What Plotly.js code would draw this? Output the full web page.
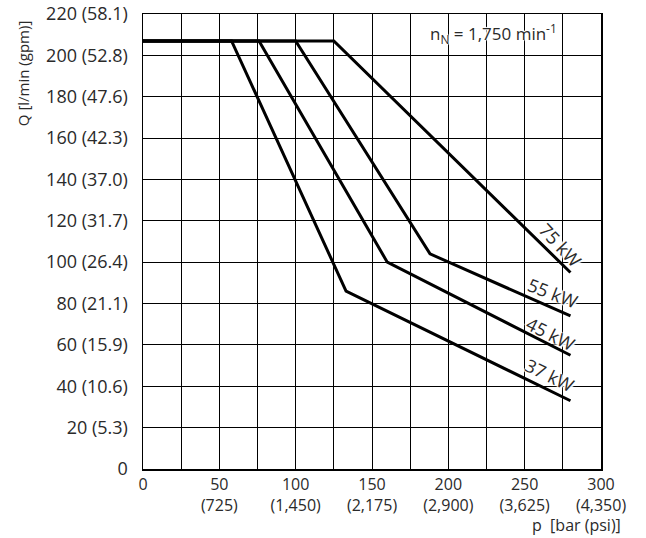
<!DOCTYPE html>
<html><head><meta charset="utf-8">
<script src="https://cdn.plot.ly/plotly-3.0.1.min.js"></script>
<style>body{margin:0;background:#fff}#c{width:646px;height:538px}</style>
</head><body><div id="c"></div>
<script>
// Data: pressure p [bar], flow Q [l/min]
const p37 = [0, 58, 133, 280];
const q37 = [207, 207, 86, 33];
const p45 = [0, 76, 160, 280];
const q45 = [207, 207, 100, 55];
const p55 = [0, 100, 188, 280];
const q55 = [207, 207, 104, 74];
const p75 = [0, 125, 280];
const q75 = [207, 207, 95];
const powerLabels = ['75 kW', '55 kW', '45 kW', '37 kW'];
const xTickVals = [0, 25, 50, 75, 100, 125, 150, 175, 200, 225, 250, 275, 300];
const xTickText = ['0', '', '50<br>(725)', '', '100<br>(1,450)', '', '150<br>(2,175)', '', '200<br>(2,900)', '', '250<br>(3,625)', '', '300<br>(4,350)'];
const yTickVals = [0, 20, 40, 60, 80, 100, 120, 140, 160, 180, 200, 220];
const yTickText = ['0', '20 (5.3)', '40 (10.6)', '60 (15.9)', '80 (21.1)', '100 (26.4)', '120 (31.7)', '140 (37.0)', '160 (42.3)', '180 (47.6)', '200 (52.8)', '220 (58.1)'];

const FONT = 'Open Sans, DejaVu Sans, sans-serif';
const TXT = '#2a2a2a';
const HALO = '1px 0 1px #fff, -1px 0 1px #fff, 0 1px 1px #fff, 0 -1px 1px #fff, 2px 0 1px #fff, -2px 0 1px #fff';
const line = {color: '#000', width: 3};
const traces = [
  {x: p75, y: q75, mode: 'lines', line: line, hoverinfo: 'skip'},
  {x: p55, y: q55, mode: 'lines', line: line, hoverinfo: 'skip'},
  {x: p45, y: q45, mode: 'lines', line: line, hoverinfo: 'skip'},
  {x: p37, y: q37, mode: 'lines', line: line, hoverinfo: 'skip'}
].map(t => Object.assign(t, {showlegend: false}));

const labelPos = [[273.5, 108.5, 47], [268.3, 85.0, 21], [267.4, 65.5, 27], [266.3, 45.5, 26]];
const annotations = powerLabels.map((t, i) => ({
  x: labelPos[i][0], y: labelPos[i][1], xref: 'x', yref: 'y', text: t,
  xanchor: 'center', yanchor: 'middle',
  showarrow: false, textangle: labelPos[i][2],
  font: {family: FONT, size: 18, color: TXT, shadow: HALO}
}));
annotations.push({
  x: 229.5, y: 210.5, xref: 'x', yref: 'y', xanchor: 'center', yanchor: 'middle',
  showarrow: false,
  text: 'n<sub>N</sub> = 1,750 min<sup>-1</sup>', font: {family: FONT, size: 17, color: TXT, shadow: HALO}
});
annotations.push({
  x: -0.262, y: 0.870, xref: 'paper', yref: 'paper', xanchor: 'center', yanchor: 'middle',
  showarrow: false, textangle: -90,
  text: 'Q [l/min (gpm)]', font: {family: FONT, size: 15, color: TXT}
});
annotations.push({
  x: 0.947, y: -0.124, xref: 'paper', yref: 'paper', xanchor: 'center', yanchor: 'middle',
  showarrow: false,
  text: 'p  [bar (psi)]', font: {family: FONT, size: 16, color: TXT}
});

const axisCommon = {showgrid: true, gridcolor: '#000', gridwidth: 1, zeroline: false,
  showline: true, linecolor: '#000', linewidth: 1.5, mirror: true, ticks: '', fixedrange: true};
const layout = {
  width: 646, height: 538,
  margin: {l: 142.5, r: 44.5, t: 13.5, b: 69},
  paper_bgcolor: '#fff', plot_bgcolor: '#fff',
  showlegend: false,
  xaxis: Object.assign({range: [0, 300], tickvals: xTickVals, ticktext: xTickText,
    tickfont: {family: FONT, size: 16, color: TXT}}, axisCommon),
  yaxis: Object.assign({range: [0, 220], tickvals: yTickVals, ticktext: yTickText, ticklabelstandoff: 10,
    tickfont: {family: FONT, size: 18, color: TXT}}, axisCommon),
  annotations: annotations
};
Plotly.newPlot('c', traces, layout, {staticPlot: true});
</script></body></html>
